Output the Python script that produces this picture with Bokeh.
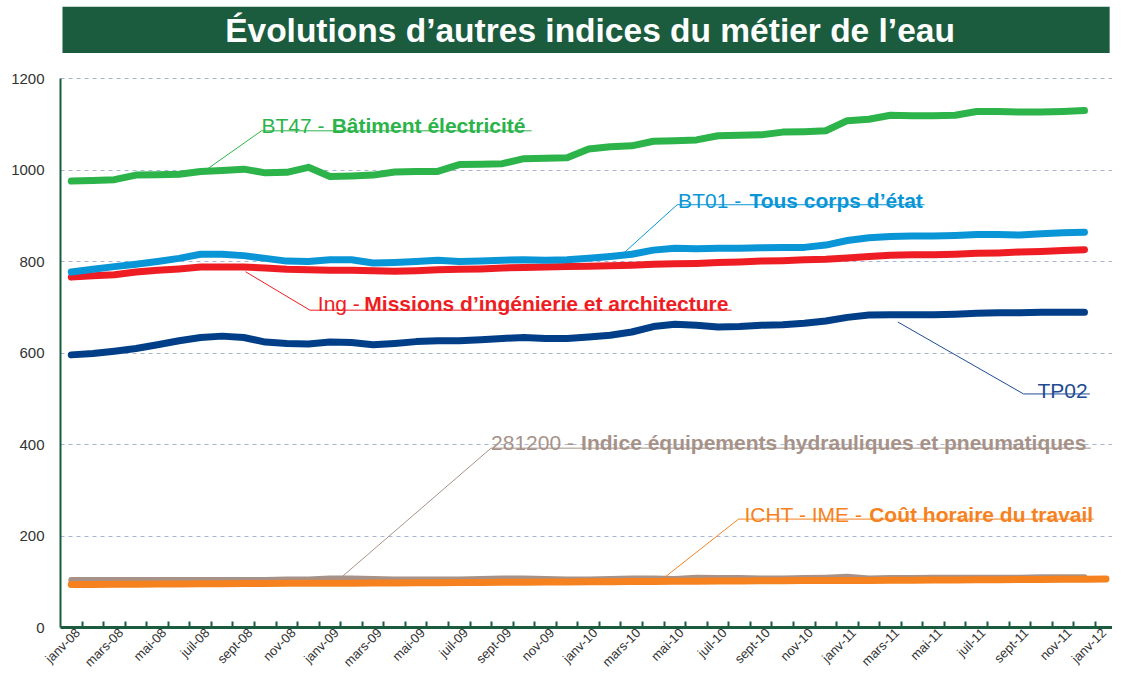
from bokeh.plotting import figure
from bokeh.models import Range1d, FixedTicker, Label, BoxAnnotation
from bokeh.embed import file_html
from bokeh.resources import INLINE

# ---------------- data ----------------
months = [f"{m}-{y:02d}" for y in (8, 9, 10, 11) for m in
          ["janv", "févr", "mars", "avr", "mai", "juin", "juil", "août", "sept", "oct", "nov", "déc"]] + ["janv-12"]

tick_labels = ["janv-08", "mars-08", "mai-08", "juil-08", "sept-08", "nov-08",
               "janv-09", "mars-09", "mai-09", "juil-09", "sept-09", "nov-09",
               "janv-10", "mars-10", "mai-10", "juil-10", "sept-10", "nov-10",
               "janv-11", "mars-11", "mai-11", "juil-11", "sept-11", "nov-11",
               "janv-12"]

bt47 = [976, 977, 979, 989, 990, 991, 997, 999, 1002, 994, 995, 1006,
        986, 987, 989, 996, 997, 997, 1012, 1013, 1014, 1025, 1026, 1027,
        1046, 1051, 1053, 1063, 1064, 1066, 1075, 1076, 1077, 1083, 1084, 1086,
        1108, 1111, 1120, 1119, 1119, 1120, 1128, 1128, 1127, 1127, 1128, 1130]

bt01 = [777, 783, 789, 794, 800, 807, 816, 816, 813, 807, 801, 800,
        804, 804, 797, 798, 800, 803, 800, 801, 803, 804, 803, 804,
        807, 811, 816, 825, 829, 828, 829, 829, 830, 831, 831, 836,
        846, 852, 855, 856, 856, 857, 859, 859, 858, 861, 863, 864]

ing = [766, 769, 771, 777, 781, 784, 788, 788, 788, 786, 783, 782,
       781, 781, 780, 779, 780, 782, 783, 784, 786, 787, 788, 789,
       790, 791, 792, 794, 795, 796, 798, 799, 801, 802, 804, 805,
       808, 811, 814, 815, 815, 816, 818, 819, 821, 822, 824, 826]

tp02 = [596, 599, 604, 610, 618, 627, 634, 637, 634, 624, 621, 620,
        624, 623, 618, 621, 625, 627, 627, 629, 632, 634, 632, 632,
        635, 639, 646, 658, 663, 661, 657, 658, 661, 662, 665, 670,
        678, 683, 684, 684, 684, 685, 687, 688, 688, 689, 689, 689]

idx281200 = [104, 104, 104, 104, 104, 104, 104, 104, 104, 104, 105, 105,
             107, 107, 106, 105, 105, 105, 105, 106, 107, 107, 106, 105,
             105, 106, 107, 107, 106, 109, 108, 108, 107, 107, 108, 109,
             111, 107, 108, 108, 109, 109, 109, 109, 109, 110, 110, 110]

icht = [94, 94, 94.5, 94.5, 95, 95, 95.5, 95.5, 96, 96, 96.5, 96.5,
        97, 97, 97.5, 97.5, 98, 98, 98.5, 98.5, 99, 99, 99.5, 99.5,
        100, 100, 100.5, 100.5, 101, 101, 101.5, 101.5, 102, 102, 102.5, 102.5,
        103, 103, 103.5, 103.5, 104, 104, 104.5, 104.5, 105, 105, 105.5, 105.5, 106]

# ---------------- layout constants ----------------
W, H = 1112, 677
# reference picture geometry (used to place callouts in data units)
REF_X0, REF_Y0, REF_CAT_PX = 60, 643, 21.78
REF_UNIT_PER_PX = 1200 / (643 - 86)
X_MAX, Y_MAX = 48.8, 1362


def X(px):
    return (px - REF_X0) / REF_CAT_PX


def Y(py):
    return (REF_Y0 - py) * REF_UNIT_PER_PX


FONT = "Liberation Sans"
DARK_GREEN = "#1b5c3f"
TXT = "#333333"

p = figure(width=W, height=H, x_range=Range1d(0, X_MAX), y_range=Range1d(0, Y_MAX),
           output_backend="svg", toolbar_location=None,
           min_border_left=60, min_border_right=0, min_border_top=4, min_border_bottom=40)
p.outline_line_color = None
p.background_fill_color = "white"
p.border_fill_color = "white"
p.xgrid.visible = False

# y axis
p.yaxis.ticker = FixedTicker(ticks=[0, 200, 400, 600, 800, 1000, 1200])
p.yaxis.bounds = (0, 1200)
p.yaxis.axis_line_color = DARK_GREEN
p.yaxis.axis_line_width = 2
p.yaxis.major_tick_out = 0
p.yaxis.major_tick_in = 0
p.yaxis.minor_tick_out = 0
p.yaxis.minor_tick_in = 0
p.yaxis.major_label_standoff = 16
p.yaxis.major_label_text_font = FONT
p.yaxis.major_label_text_font_size = "15px"
p.yaxis.major_label_text_color = TXT
p.ygrid.grid_line_color = "#aab4d8"
p.ygrid.grid_line_dash = "4 4"
p.ygrid.grid_line_width = 1

# x axis: labels every 2 months, small inner ticks at month boundaries
label_pos = [2 * k + 0.8 for k in range(len(tick_labels) - 1)] + [48.4]
p.xaxis.ticker = FixedTicker(ticks=label_pos, minor_ticks=list(range(1, 49)))
p.xaxis.major_label_overrides = {pos: lab for pos, lab in zip(label_pos, tick_labels)}
p.xaxis.major_label_orientation = 0.785398
p.xaxis.axis_line_color = DARK_GREEN
p.xaxis.axis_line_width = 3
p.xaxis.major_tick_out = 0
p.xaxis.major_tick_in = 0
p.xaxis.minor_tick_in = 6
p.xaxis.minor_tick_out = 0
p.xaxis.minor_tick_line_color = DARK_GREEN
p.xaxis.minor_tick_line_width = 2
p.xaxis.major_label_standoff = 3
p.xaxis.major_label_text_font = FONT
p.xaxis.major_label_text_font_size = "13px"
p.xaxis.major_label_text_color = TXT

# ---------------- series ----------------
xs48 = [i + 0.5 for i in range(48)]
xs49 = [i + 0.5 for i in range(49)]

series = [
    (idx281200, xs48, "#a69288", 6),
    (icht, xs49, "#f5821f", 7),
    (tp02, xs48, "#003f87", 7),
    (ing, xs48, "#ee1d23", 7),
    (bt01, xs48, "#0a96d6", 7),
    (bt47, xs48, "#2cb34a", 7),
]
for vals, xs, col, lw in series:
    p.line(xs, vals, line_color=col, line_width=lw, line_cap="round", line_join="round")

# ---------------- title banner ----------------
p.add_layout(BoxAnnotation(left=X(62), right=X(1120), top=Y(13), bottom=Y(60),
                           fill_color=DARK_GREEN, fill_alpha=1, line_alpha=0))
p.add_layout(Label(x=X(595), y=Y(37), text="Évolutions d’autres indices du métier de l’eau",
                   text_align="center", text_baseline="middle", text_color="white",
                   text_font=FONT, text_font_style="bold", text_font_size="33.5px"))

# ---------------- callouts (reference-pixel layout) ----------------
callouts = [
    # color, regular, bold, x_reg, x_bold, baseline, underline_y, ul_x0, ul_x1, leader_end
    ("#2cb34a", "BT47 -", "Bâtiment électricité", 263, 334, 134, 139, 263, 536, (208, 178)),
    ("#0a96d6", "BT01 -", "Tous corps d’état", 684, 756, 210, 214, 683, 933, (628, 264)),
    ("#ee1d23", "Ing -", "Missions d’ingénierie et architecture", 320, 367, 314, 321, 312, 738, (247, 282)),
    ("#1e4b93", "TP02", "", 1047, 0, 402, 406, 1033, 1100, (906, 333)),
    ("#a69288", "281200 -", "Indice équipements hydrauliques et pneumatiques", 495, 586, 455, 461, 495, 1101, (345, 591)),
    ("#f5821f", "ICHT - IME -", "Coût horaire du travail", 751, 877, 528, 533, 745, 1104, (668, 594)),
]
for col, reg, bold, xr, xb, base, uly, ux0, ux1, lead in callouts:
    p.line([X(lead[0]), X(ux0), X(ux1)], [Y(lead[1]), Y(uly), Y(uly)],
           line_color=col, line_width=1)
    p.add_layout(Label(x=X(xr), y=Y(base), text=reg, text_align="left", text_baseline="alphabetic",
                       text_color=col, text_font=FONT, text_font_size="21px"))
    if bold:
        p.add_layout(Label(x=X(xb), y=Y(base), text=bold, text_align="left", text_baseline="alphabetic",
                           text_color=col, text_font=FONT, text_font_style="bold", text_font_size="21px"))

open("out.html", "w").write(file_html(p, INLINE))
